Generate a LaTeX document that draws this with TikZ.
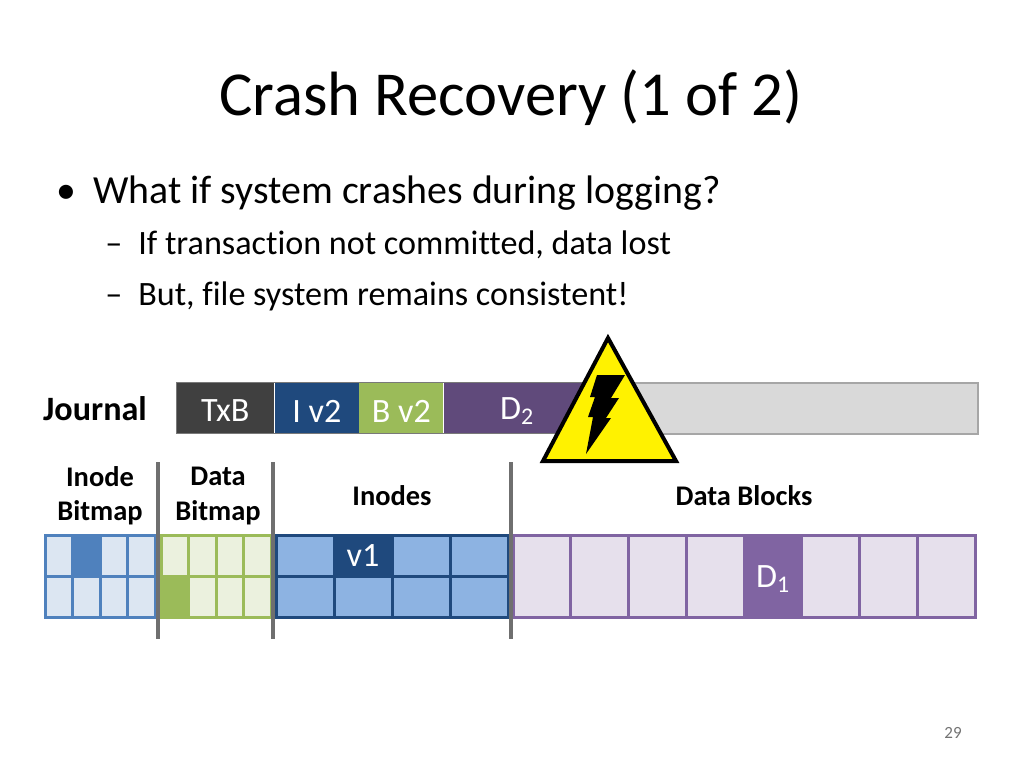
\documentclass[tikz,border=0pt]{standalone}
\usepackage{fontspec}
\setmainfont{Carlito}[Ligatures=NoCommon]
\usetikzlibrary{positioning}
\newcommand{\pxl}{0.703125pt}
\definecolor{txbgray}{HTML}{404040}
\definecolor{inodeblue}{HTML}{1F497D}
\definecolor{bmgreen}{HTML}{9BBB59}
\definecolor{dpurple}{HTML}{604A7B}
\definecolor{lpurple}{HTML}{8064A2}
\definecolor{ibline}{HTML}{4F81BD}
\definecolor{iblight}{HTML}{DCE6F2}
\definecolor{dblight}{HTML}{EBF1DE}
\definecolor{inmid}{HTML}{8DB3E2}
\definecolor{dalight}{HTML}{E6E0EC}
\definecolor{divgray}{HTML}{6F6F6F}
\begin{document}
\begin{tikzpicture}[x=0.703125pt,y=-0.703125pt,
		jseg/.style={rectangle,draw=none,inner sep=0pt,minimum height=51*\pxl},
		jlbl/.style={text=white,font=\fontsize{24}{24}\selectfont,yshift=-3*\pxl},
		head/.style={font=\bfseries\fontsize{20}{24}\selectfont,align=center,inner sep=0pt},
		cell/.style={rectangle,inner sep=0pt,line width=3*\pxl},
		divider/.style={draw=divgray,line width=4*\pxl}]
		\useasboundingbox (0,0) rectangle (1024,768);
		
		\node (title) at (511,98) {\fontsize{44}{44}\selectfont Crash Recovery (1 of 2)};
		\node[anchor=base west,inner sep=0pt] (b1) at (93,204) {\fontsize{28}{28}\selectfont What if system crashes during logging?};
		\node[anchor=base west,inner sep=0pt] (d1) at (56,204) {\fontsize{28}{28}\selectfont\textbullet};
		\node[anchor=base west,inner sep=0pt] (s1) at (138,255) {\fontsize{24}{24}\selectfont If transaction not committed, data lost};
		\node[anchor=base west,inner sep=0pt] (s2) at (138,305) {\fontsize{24}{24}\selectfont But, file system remains consistent!};
		\node[anchor=base west,inner sep=0pt] (t1) at (105,255) {\fontsize{24}{24}\selectfont --};
		\node[anchor=base west,inner sep=0pt] (t2) at (105,305) {\fontsize{24}{24}\selectfont --};
		
		% journal
		\node[font=\bfseries\fontsize{24}{24}\selectfont] (journal) at (95,409) {Journal};
		\node[jseg,fill=txbgray,minimum width=98*\pxl,anchor=west] (txb) at (176,408) {};
		\node[jseg,fill=inodeblue,minimum width=84*\pxl,right=0pt of txb] (iv2) {};
		\node[jseg,fill=bmgreen,minimum width=84*\pxl,right=0pt of iv2] (bv2) {};
		\node[jseg,fill=dpurple,minimum width=148*\pxl,right=0pt of bv2] (d2) {};
		\node[jseg,fill=black!15,draw=black!35,line width=2*\pxl,minimum width=385*\pxl,right=0pt of d2] (free) {};
		\draw[txbgray!70,line width=1*\pxl] (txb.north west) rectangle (d2.south east);
		\node[jlbl] (txblbl) at (txb) {TxB};
		\node[jlbl] (iv2lbl) at (iv2) {I v2};
		\node[jlbl] (bv2lbl) at (bv2) {B v2};
		\node[jlbl] (d2lbl) at (517,408) {D\textsubscript{2}};
		
		% crash sign
		\draw[fill=yellow,line width=4*\pxl,line join=miter] (608,338) -- (676,461) -- (543,461) -- cycle;
		\fill[black] (597,375) -- (625,375) -- (611,398) -- (619,398) -- (606,418) -- (611,418) -- (586,454)
			-- (593,417) -- (588,417) -- (595,397) -- (590,397) -- cycle;
		
		% headings
		\node[head] (ibh) at (100,496) {Inode\\Bitmap};
		\node[head] (dbh) at (218,496) {Data\\Bitmap};
		\node[head] (inh) at (392,496) {Inodes};
		\node[head] (dah) at (744,496) {Data Blocks};
		
		% inode bitmap
		\foreach \c in {0,...,3}
		\foreach \r in {0,1}{
			\ifnum\r\c=1 \def\cellfill{ibline}\else\def\cellfill{iblight}\fi
			\node[cell,draw=ibline,fill=\cellfill,minimum width=27.5*\pxl,minimum height=41*\pxl]
				(ib-\r\c) at (58.75+27.5*\c,555.5+41*\r) {};
		}
		
		% data bitmap
		\foreach \c in {0,...,3}
		\foreach \r in {0,1}{
			\ifnum\r\c=10 \def\cellfill{bmgreen}\else\def\cellfill{dblight}\fi
			\node[cell,draw=bmgreen,fill=\cellfill,minimum width=27.5*\pxl,minimum height=41*\pxl]
				(db-\r\c) at (174.75+27.5*\c,555.5+41*\r) {};
		}
		
		% inodes
		\foreach \c in {0,...,3}
		\foreach \r in {0,1}{
			\ifnum\r\c=1 \def\cellfill{inodeblue}\else\def\cellfill{inmid}\fi
			\node[cell,draw=inodeblue,fill=\cellfill,minimum width=58*\pxl,minimum height=41*\pxl]
				(in-\r\c) at (305+58*\c,555.5+41*\r) {};
		}
		\node[text=white,font=\fontsize{24}{24}\selectfont] (v1) at (363,556) {v1};
		
		% data blocks
		\foreach \c in {0,...,7}{
			\ifnum\c=4 \def\cellfill{lpurple}\else\def\cellfill{dalight}\fi
			\node[cell,draw=lpurple,fill=\cellfill,minimum width=57.75*\pxl,minimum height=82*\pxl]
				(da-\c) at (541.9+57.75*\c,576) {};
		}
		\node[text=white,font=\fontsize{24}{24}\selectfont] (d1lbl) at (773,579) {D\textsubscript{1}};
		
		% dividers
		\foreach \x in {158,273,511}
		\draw[divider] (\x,462) -- (\x,639);
		
		\node[text=black!55,font=\fontsize{12}{12}\selectfont] (page) at (953,733) {29};
	\end{tikzpicture}
\end{document}
